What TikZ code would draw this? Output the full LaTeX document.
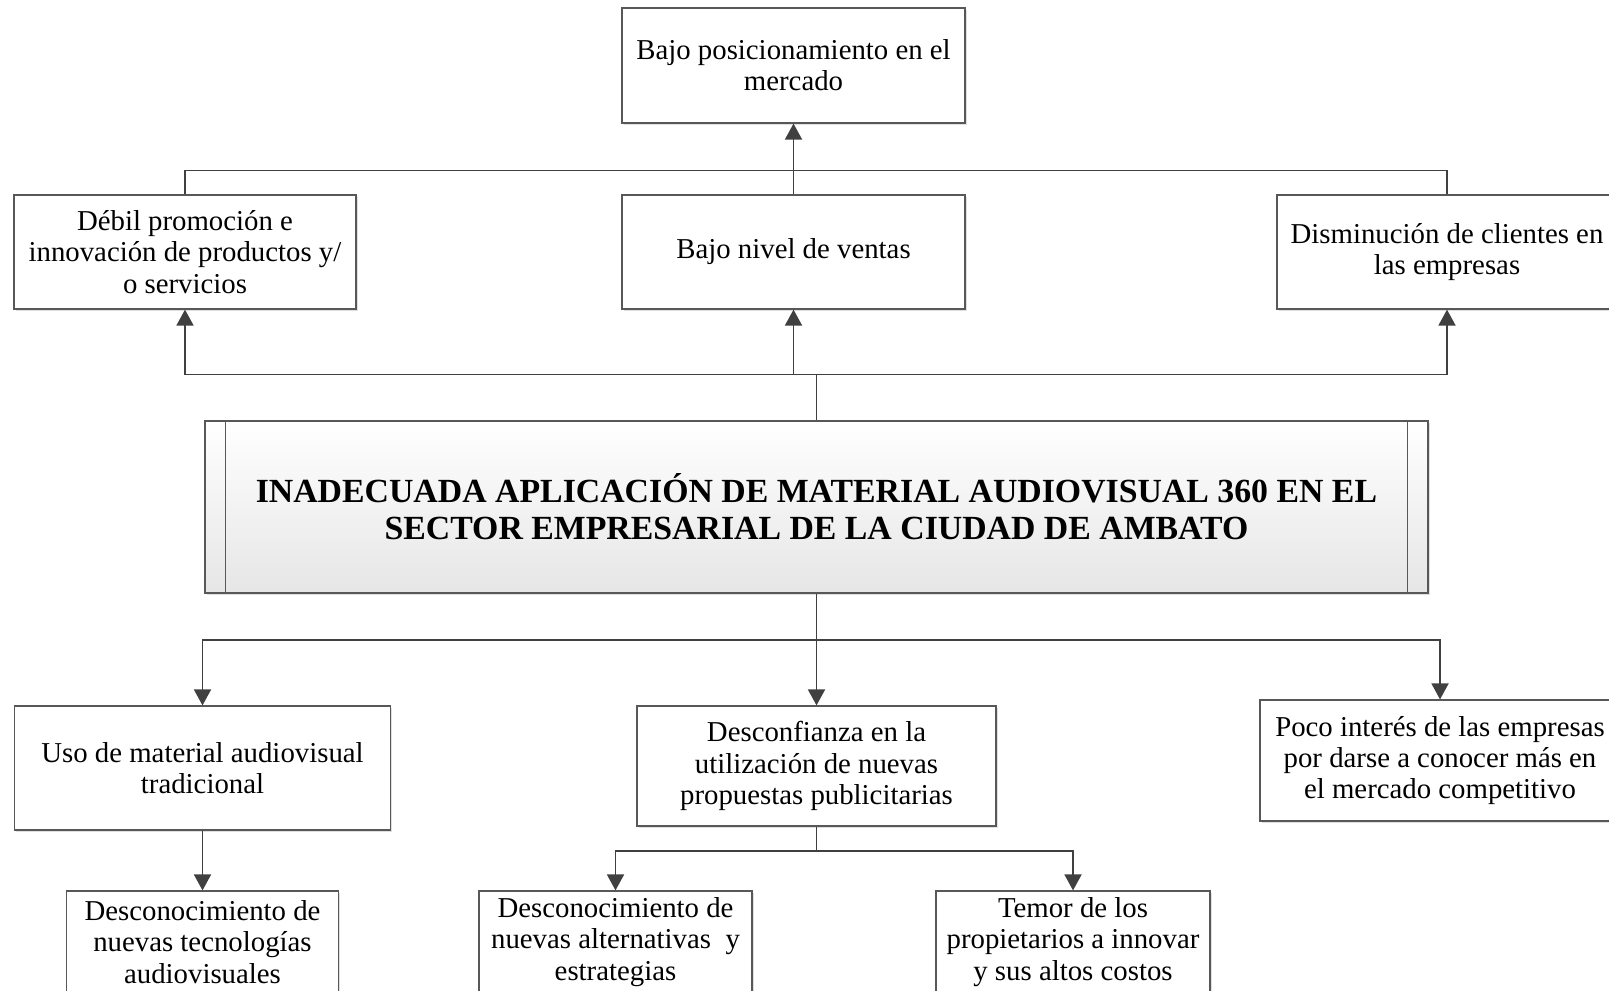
\documentclass[tikz,border=0pt]{standalone}
\usepackage{fontspec}
\setmainfont{Liberation Serif}
\definecolor{linegray}{RGB}{64,64,64}
\definecolor{boxgray}{RGB}{88,88,88}
\definecolor{shadegray}{RGB}{230,230,230}
\usetikzlibrary{arrows.meta,positioning,shadows,calc}

\begin{document}
\begin{tikzpicture}[x=0.5pt,y=-0.5pt,
    box/.style={draw=boxgray, fill=white, line width=0.6pt, align=center,
      inner sep=0pt, font=\fontsize{14.4}{15.6}\selectfont,
      drop shadow={opacity=0.25,shadow xshift=0.8pt,shadow yshift=-0.8pt}},
    conn/.style={draw=linegray, line width=0.9pt},
    arr/.style={conn, -{Triangle[length=8pt,width=8.5pt]}}]
    \clip (0,0) rectangle (1609,990);
    % Effects
    \node[box, minimum width=171.5pt, minimum height=57.5pt] (posic) at (793.5,65.5)
      {Bajo posicionamiento en el\\mercado};
    \node[box, minimum width=171pt, minimum height=57pt] (debil) at (185,252)
      {Débil promoción e\\innovación de productos y/\\o servicios};
    \node[box, minimum width=171.5pt, minimum height=57pt] (ventas) at (793.5,252)
      {Bajo nivel de ventas};
    \node[box, minimum width=170pt, minimum height=57pt] (dismin) at (1447,252)
      {Disminución de clientes en\\las empresas};
    % Central problem
    \node[box, minimum width=611.5pt, minimum height=86pt,
      top color=white, bottom color=shadegray,
      font=\fontsize{16.9}{18.5}\selectfont\bfseries] (problema) at (816.5,507)
      {INADECUADA APLICACIÓN DE MATERIAL AUDIOVISUAL 360 EN EL\\SECTOR EMPRESARIAL DE LA CIUDAD DE AMBATO};
    \draw[boxgray, line width=0.6pt] ([xshift=10.5pt]problema.north west) -- ([xshift=10.5pt]problema.south west);
    \draw[boxgray, line width=0.6pt] ([xshift=-10.5pt]problema.north east) -- ([xshift=-10.5pt]problema.south east);
    % Causes
    \node[box, minimum width=188pt, minimum height=62pt] (uso) at (202.5,768)
      {Uso de material audiovisual\\tradicional};
    \node[box, minimum width=179.5pt, minimum height=60pt] (desconf) at (816.5,766)
      {Desconfianza en la\\utilización de nuevas\\propuestas publicitarias};
    \node[box, minimum width=180pt, minimum height=60.5pt] (poco) at (1440,760.5)
      {Poco interés de las empresas\\por darse a conocer más en\\el mercado competitivo};
    \node[box, minimum width=136pt, minimum height=51pt] (desc1) at (202.5,942)
      {Desconocimiento de\\nuevas tecnologías\\audiovisuales};
    \node[box, minimum width=136.5pt, minimum height=51pt] (desc2) at (615.5,942)
      {Desconocimiento de\\nuevas alternativas \ y\\estrategias};
    \node[box, minimum width=137pt, minimum height=51pt] (temor) at (1073,942)
      {Temor de los\\propietarios a innovar\\y sus altos costos};
    % Connectors up
    \draw[arr] (ventas.north) -- (posic.south);
    \draw[conn] (debil.north) -- ++(0,-24) -| (dismin.north);
    \draw[conn] (problema.north) -- ++(0,-46) coordinate (up);
    \foreach \n in {debil,dismin}
      \draw[arr] (up) -| (\n.south);
    \draw[arr] (ventas.south |- up) -- (ventas.south);
    % Connectors down
    \draw[conn] (problema.south) -- ++(0,46) coordinate (down);
    \foreach \n in {uso,desconf,poco}
      \draw[arr] (down) -| (\n.north);
    \draw[arr] (uso.south) -- (desc1.north);
    \draw[conn] (desconf.south) -- ++(0,24) coordinate (split);
    \foreach \n in {desc2,temor}
      \draw[arr] (split) -| (\n.north);
\end{tikzpicture}
\end{document}
